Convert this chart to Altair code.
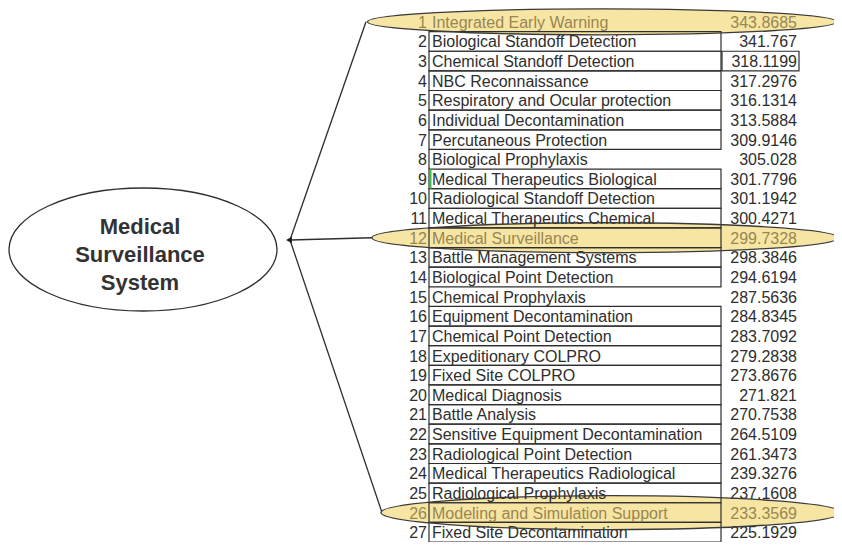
import altair as alt
import pandas as pd

# ---------------- data ----------------
ranks = list(range(1, 28))
names = [
    "Integrated Early Warning", "Biological Standoff Detection", "Chemical Standoff Detection",
    "NBC Reconnaissance", "Respiratory and Ocular protection", "Individual Decontamination",
    "Percutaneous Protection", "Biological Prophylaxis", "Medical Therapeutics Biological",
    "Radiological Standoff Detection", "Medical Therapeutics Chemical", "Medical Surveillance",
    "Battle Management Systems", "Biological Point Detection", "Chemical Prophylaxis",
    "Equipment Decontamination", "Chemical Point Detection", "Expeditionary COLPRO",
    "Fixed Site COLPRO", "Medical Diagnosis", "Battle Analysis",
    "Sensitive Equipment Decontamination", "Radiological Point Detection",
    "Medical Therapeutics Radiological", "Radiological Prophylaxis",
    "Modeling and Simulation Support", "Fixed Site Decontamination",
]
values = [
    343.8685, 341.767, 318.1199, 317.2976, 316.1314, 313.5884, 309.9146, 305.028,
    301.7796, 301.1942, 300.4271, 299.7328, 298.3846, 294.6194, 287.5636, 284.8345,
    283.7092, 279.2838, 273.8676, 271.821, 270.7538, 264.5109, 261.3473, 239.3276,
    237.1608, 233.3569, 225.1929,
]
highlighted = [1, 12, 26]
title_lines = ["Medical", "Surveillance", "System"]

# ---------------- style / layout ----------------
FONT = "Liberation Sans"
DARK = "#2e2e2e"
OLIVE = "#978752"
FILL = "#f7e5a4"
no_box_rows = [1]          # row without a name box
open_rows = [8, 15]        # rows whose box has no right border
value_box_rows = [3]       # rows whose value is boxed
green_rows = [9]

# rank -> (ellipse centre x, width, height, connector end x)   [pixels]
HL_STYLE = {1: (594, 469, 26, 358), 12: (597, 466, 30, 364), 26: (603, 460, 34, 374)}
HUB_X, HUB_Y = 282, 232

df = pd.DataFrame({"rank": ranks, "name": names, "value": values})
title_df = pd.DataFrame({"label": ["\n".join(title_lines)]})

yscale = alt.Scale(domain=[0.5, 27.5], range=[4, 534], nice=False, zero=False)
Y = alt.Y("rank:Q", scale=yscale, axis=None)

base = alt.Chart(df)


def ellipse_path(ratio):
    return f"M-1,0A1,{ratio:.4f} 0 1,1 1,0A1,{ratio:.4f} 0 1,1 -1,0Z"


hl_color = alt.condition(
    alt.FieldOneOfPredicate(field="rank", oneOf=highlighted),
    alt.value(OLIVE), alt.value(DARK),
)

layers = []

# big left ellipse
layers.append(
    alt.Chart(title_df).mark_point(
        shape=ellipse_path(123 / 268), size=268 ** 2, filled=False, color=DARK,
        strokeWidth=1.3, opacity=1,
    ).encode(x=alt.value(135), y=alt.value(241.5))
)

# connectors
for r, (cx, w, h, ex) in HL_STYLE.items():
    layers.append(
        base.transform_filter(alt.datum.rank == r).mark_rule(color=DARK, strokeWidth=1.3).encode(
            x=alt.value(ex), x2=alt.value(HUB_X), y=Y, y2=alt.value(HUB_Y)
        )
    )

# arrowhead
layers.append(
    alt.Chart(title_df).mark_point(shape="triangle-left", size=45, filled=True, color="#1a1a1a", opacity=1)
    .encode(x=alt.value(HUB_X - 1), y=alt.value(HUB_Y))
)

# highlight fills
for r, (cx, w, h, ex) in HL_STYLE.items():
    layers.append(
        base.transform_filter(alt.datum.rank == r).mark_point(
            shape=ellipse_path(h / w), size=w ** 2, filled=True, color=FILL, opacity=1, strokeWidth=0
        ).encode(x=alt.value(cx), y=Y)
    )

# name boxes
box_src = base.transform_calculate(lo="datum.rank - 0.5", hi="datum.rank + 0.5")
YLO = alt.Y("lo:Q", scale=yscale, axis=None)
layers.append(
    box_src.transform_filter({"not": {"field": "rank", "oneOf": no_box_rows + open_rows}})
    .mark_rect(fillOpacity=0, stroke=DARK, strokeWidth=1.2)
    .encode(x=alt.value(421), x2=alt.value(713), y=YLO, y2="hi:Q")
)
layers.append(
    box_src.transform_filter(alt.FieldOneOfPredicate(field="rank", oneOf=open_rows))
    .mark_rule(color=DARK, strokeWidth=1.2)
    .encode(x=alt.value(421), y=YLO, y2="hi:Q")
)
layers.append(
    box_src.transform_filter(alt.FieldOneOfPredicate(field="rank", oneOf=value_box_rows))
    .mark_rect(fillOpacity=0, stroke=DARK, strokeWidth=1.2)
    .encode(x=alt.value(714), x2=alt.value(791), y=YLO, y2="hi:Q")
)
layers.append(
    box_src.transform_filter(alt.FieldOneOfPredicate(field="rank", oneOf=green_rows))
    .mark_rule(color="#3dbb4a", strokeWidth=2)
    .encode(x=alt.value(422.5), y=YLO, y2="hi:Q")
)

# texts
txt = dict(baseline="middle", font=FONT, fontSize=16, dy=1)
layers.append(base.mark_text(align="right", **txt).encode(x=alt.value(419), y=Y, text="rank:Q", color=hl_color))
layers.append(base.mark_text(align="left", **txt).encode(x=alt.value(424), y=Y, text="name:N", color=hl_color))
layers.append(base.mark_text(align="right", **txt).encode(
    x=alt.value(789), y=Y, text=alt.Text("value:Q", format=".4~f"), color=hl_color))

# highlight outlines (drawn over text)
for r, (cx, w, h, ex) in HL_STYLE.items():
    layers.append(
        base.transform_filter(alt.datum.rank == r).mark_point(
            shape=ellipse_path(h / w), size=w ** 2, filled=False, color="#3a3a3a", opacity=1, strokeWidth=1.3
        ).encode(x=alt.value(cx), y=Y)
    )

# title in big ellipse
layers.append(
    alt.Chart(title_df).mark_text(
        lineBreak="\n", lineHeight=28, fontSize=22, fontWeight="bold", font=FONT,
        align="center", baseline="middle", color="#333333",
    ).encode(x=alt.value(132), y=alt.value(219), text="label:N")
)

chart = alt.layer(*layers).properties(
    width=826, height=534, padding=0, autosize=alt.AutoSizeParams(type="none"),
    background="white",
).configure_view(stroke=None)

chart.save("out.html", embed_options={"renderer": "svg", "actions": False})
